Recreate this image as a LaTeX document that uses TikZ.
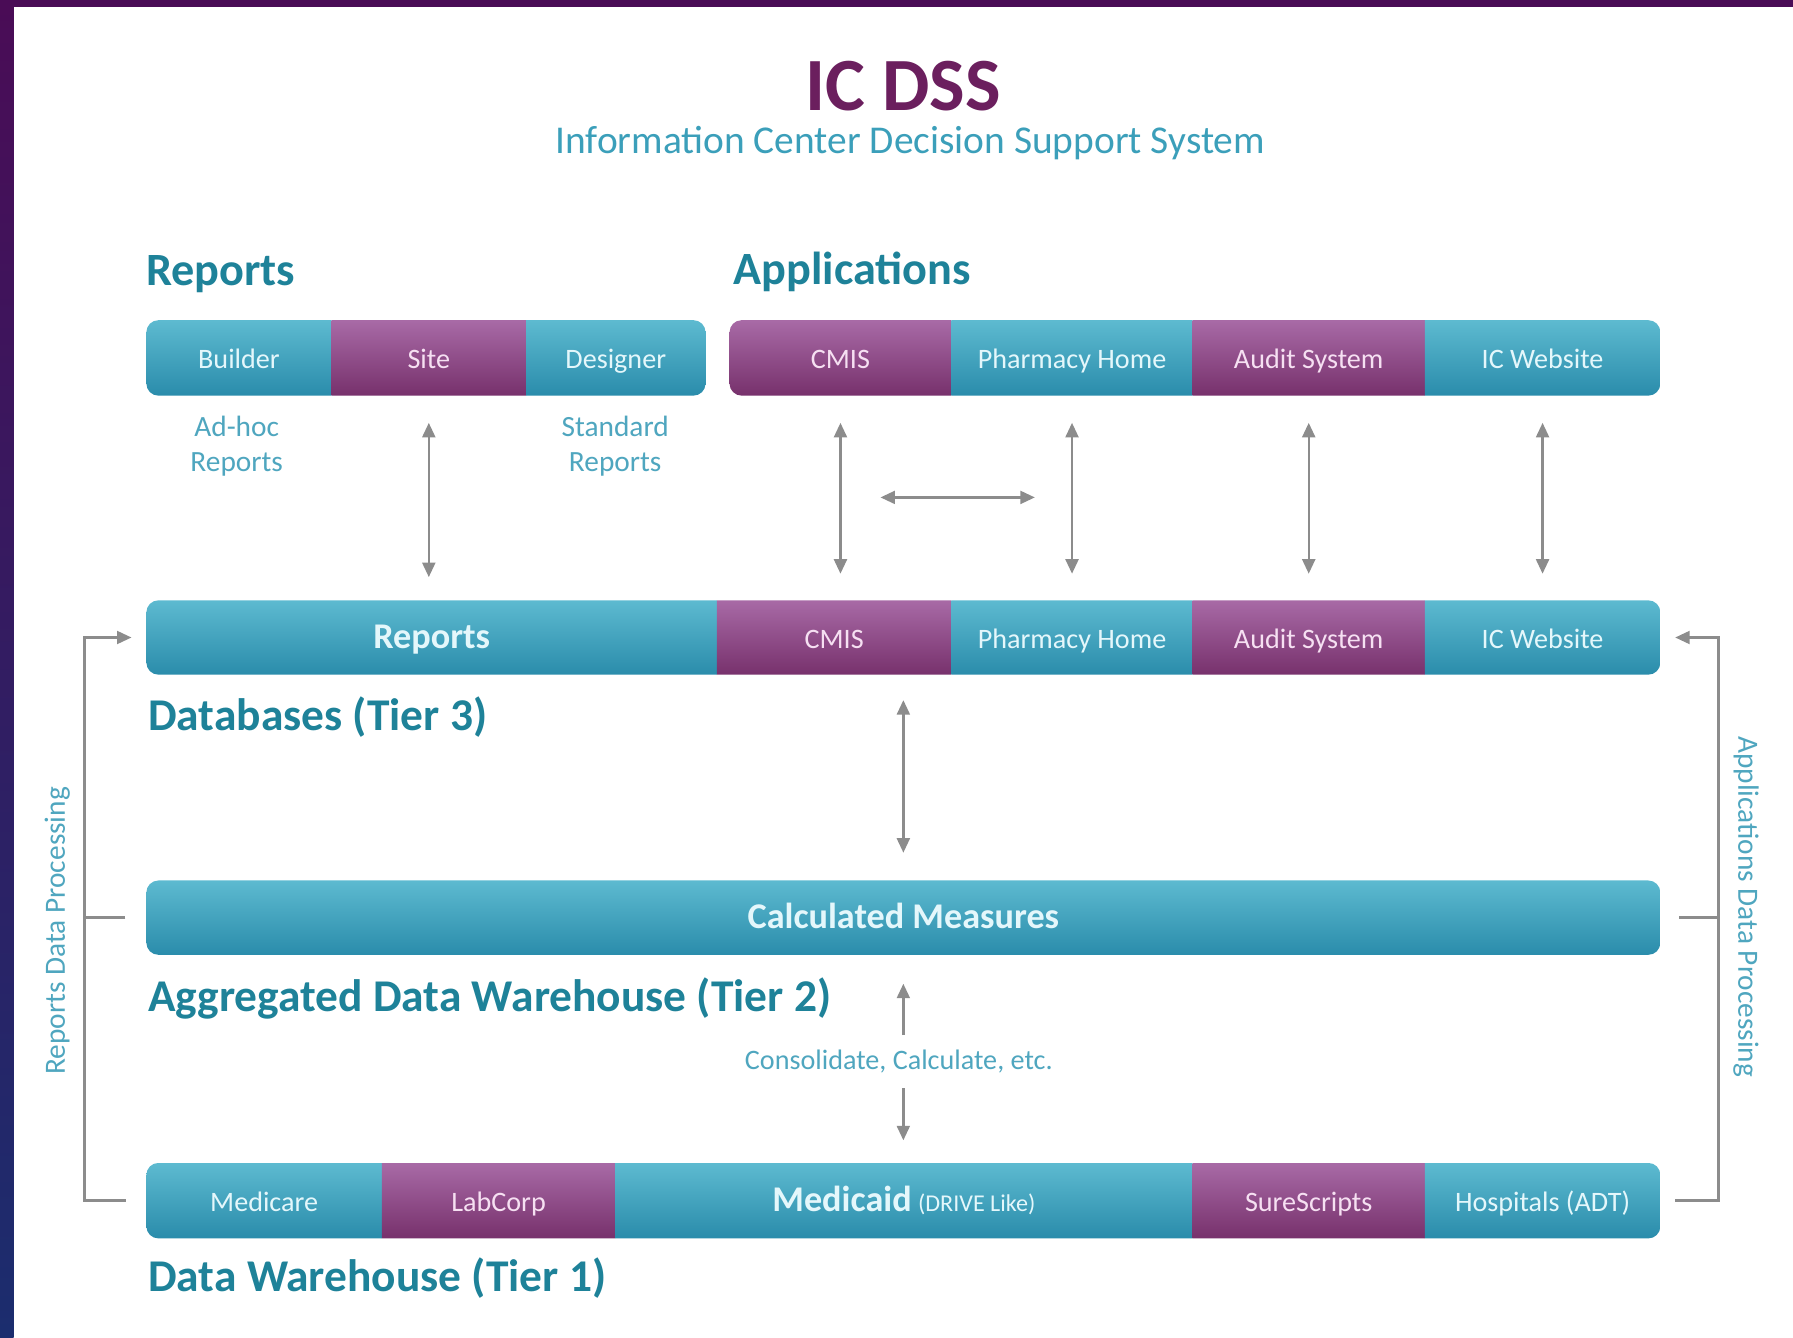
\documentclass[tikz,border=0pt]{standalone}
\usepackage{fontspec}
\setmainfont{Carlito}
\usetikzlibrary{arrows.meta,calc}

\definecolor{frametop}{HTML}{4A0C56}
\definecolor{framebot}{HTML}{1B2D6E}
\definecolor{titleplum}{HTML}{6B1F5E}
\definecolor{subteal}{HTML}{3B9FBA}
\definecolor{headteal}{HTML}{1E8299}
\definecolor{smallteal}{HTML}{4FA6BF}
\definecolor{tealtop}{HTML}{5DBAD0}
\definecolor{tealbot}{HTML}{2A8CAB}
\definecolor{tealtxt}{HTML}{E4F7FB}
\definecolor{plumtop}{HTML}{A86AA6}
\definecolor{plumbot}{HTML}{77316C}
\definecolor{plumtxt}{HTML}{F6E0F2}
\definecolor{arrowgray}{HTML}{8C8C8C}

\begin{document}
\begin{tikzpicture}[x=0.01cm,y=-0.01cm,
	segment/.style={top color=#1top,bottom color=#1bot,text=#1txt,draw=none,
		inner sep=0pt,outer sep=0pt,minimum height=0.655cm,
		text height=1.6ex,text depth=0.45ex,
		font=\fontsize{7}{8}\selectfont},
	head/.style={anchor=west,inner sep=0pt,text=headteal,font=\bfseries\fontsize{11.5}{13}\selectfont},
	tier/.style={anchor=west,inner sep=0pt,text=headteal,font=\bfseries\fontsize{11.3}{13}\selectfont},
	small/.style={inner sep=0pt,text=smallteal,align=center,font=\fontsize{7.3}{8.8}\selectfont},
	arr/.style={draw=arrowgray,line width=0.6pt},
	tip/.style={arr,-{Triangle[length=3.6pt,width=3.2pt]}},
	dbl/.style={arr,{Triangle[length=3.6pt,width=3.2pt]}-{Triangle[length=3.6pt,width=3.2pt]}}]

	% frame
	\useasboundingbox (0,0) rectangle (1568,1170);
	\fill[white] (0,0) rectangle (1568,1170);
	\shade[top color=frametop,bottom color=framebot] (0,0) rectangle (12,1170);
	\fill[frametop] (0,0) rectangle (1568,6);

	% title
	\node[inner sep=0pt,text=titleplum,font=\bfseries\fontsize{18.7}{20}\selectfont] (title) at (790,75) {IC DSS};
	\node[inner sep=0pt,text=subteal,font=\fontsize{9.8}{11}\selectfont] (subtitle) at (796,125) {Information Center Decision Support System};

	\node[head] (hreports) at (127,240) {Reports};
	\node[head] (happs) at (641,238) {Applications};

	% top row
	\begin{scope}
		\clip[rounded corners=3pt] (128,280) rectangle (617,346);
		\foreach \nm/\xa/\xb/\sty/\lab in {builder/128/290/teal/Builder, site/290/460/plum/Site, designer/460/617/teal/Designer}
			\node[segment=\sty,minimum width={(\xb-\xa)*0.01cm}] (\nm) at ({(\xa+\xb)/2},313) {\lab};
	\end{scope}
	\begin{scope}
		\clip[rounded corners=3pt] (638,280) rectangle (1452,346);
		\foreach \nm/\xa/\xb/\sty/\lab in {cmis/638/832/plum/CMIS, pharm/832/1043/teal/Pharmacy Home, audit/1043/1246/plum/Audit System, web/1246/1452/teal/IC Website}
			\node[segment=\sty,minimum width={(\xb-\xa)*0.01cm}] (\nm) at ({(\xa+\xb)/2},313) {\lab};
	\end{scope}

	\node[small] (adhoc) at (207,390) {Ad-hoc\\Reports};
	\node[small] (standard) at (538,390) {Standard\\Reports};

	% databases
	\begin{scope}
		\clip[rounded corners=3pt] (128,525) rectangle (1452,590);
		\foreach \nm/\xa/\xb/\sty/\lab in {dbrep/128/627/teal/{\fontsize{9}{10}\selectfont\bfseries Reports}, dbcmis/627/832/plum/CMIS, dbpharm/832/1043/teal/Pharmacy Home, dbaudit/1043/1246/plum/Audit System, dbweb/1246/1452/teal/IC Website}
			\node[segment=\sty,minimum width={(\xb-\xa)*0.01cm}] (\nm) at ({(\xa+\xb)/2},557.5) {\lab};
	\end{scope}
	\node[tier] (tier3) at (129,627) {Databases (Tier 3)};

	% aggregated
	\begin{scope}
		\clip[rounded corners=3pt] (128,770) rectangle (1452,835);
		\node[segment=teal,minimum width=13.24cm,font=\bfseries\fontsize{9}{10}\selectfont] (calc) at (790,802.5) {Calculated Measures};
	\end{scope}
	\node[tier] (tier2) at (129,873) {Aggregated Data Warehouse (Tier 2)};
	\node[small,font=\fontsize{7}{8}\selectfont] (cons) at (786,928) {Consolidate, Calculate, etc.};

	% warehouse
	\begin{scope}
		\clip[rounded corners=3pt] (128,1017) rectangle (1452,1083);
		\foreach \nm/\xa/\xb/\sty/\lab in {medicare/128/334/teal/Medicare, labcorp/334/538/plum/LabCorp, medicaid/538/1043/teal/{{\fontsize{9}{10}\selectfont\bfseries Medicaid} {\fontsize{6}{6}\selectfont(DRIVE Like)}}, sure/1043/1246/plum/SureScripts, hosp/1246/1452/teal/Hospitals (ADT)}
			\node[segment=\sty,minimum width={(\xb-\xa)*0.01cm}] (\nm) at ({(\xa+\xb)/2},1050) {\lab};
	\end{scope}
	\node[tier] (tier1) at (129,1118) {Data Warehouse (Tier 1)};

	% arrows between tiers
	\draw[dbl,shorten <=0.24cm,shorten >=0.2cm] (site.south) -- (site.south |- dbrep.north);
	\foreach \nm in {cmis,pharm,audit,web}
		\draw[dbl,shorten <=0.24cm,shorten >=0.23cm] (\nm.south) -- (\nm.south |- dbcmis.north);
	\coordinate (hl) at (770,435);
	\coordinate (hr) at (905,435);
	\draw[dbl] (hl) -- (hr);
	\draw[dbl,shorten <=0.22cm,shorten >=0.24cm] (calc.north |- dbcmis.south) -- (calc.north);
	\draw[tip,shorten <=0.12cm,shorten >=0.25cm] (cons.north -| calc.south) -- (calc.south);
	\draw[tip,shorten <=0.13cm,shorten >=0.2cm] (cons.south -| calc.south) -- (calc.south |- medicaid.north);

	% side brackets
	\draw[tip] (medicare.west) ++(-18,0) -- ++(-36,0) |- ($(dbrep.west)+(-13,0)$);
	\draw[arr] (calc.west) ++(-18,0) -- ++(-36,0);
	\draw[tip] (hosp.east) ++(13,0) -- ++(38,0) |- ($(dbweb.east)+(13,0)$);
	\draw[arr] (calc.east) ++(16,0) -- ++(35,0);

	\node[small,rotate=90] (repproc) at (50,814) {Reports Data Processing};
	\node[small,rotate=-90] (appproc) at (1527,793) {Applications Data Processing};
\end{tikzpicture}
\end{document}
